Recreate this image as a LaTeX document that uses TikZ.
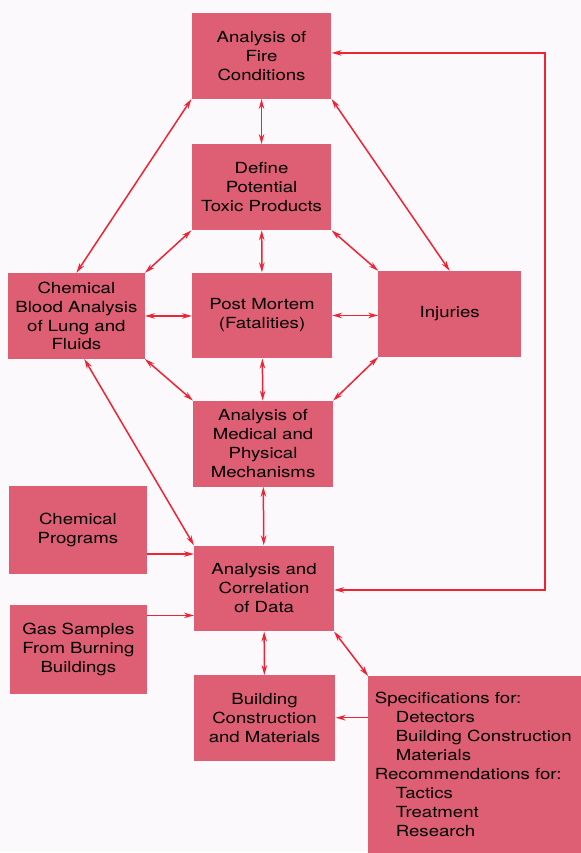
\documentclass[tikz,border=0pt]{standalone}
\usepackage{fontspec}
\setmainfont{TeX Gyre Heros}[FakeStretch=1.22]
\usetikzlibrary{arrows.meta}
\definecolor{boxpink}{RGB}{222,94,116}
\definecolor{linered}{RGB}{238,36,52}
\definecolor{paper}{RGB}{252,249,252}
\tikzset{
  box/.style={fill=boxpink, minimum width=140pt, minimum height=86pt,
    inner sep=0pt, align=center, font=\fontsize{15.3}{19}\selectfont},
  link/.style={draw=linered, line width=1.5pt}
}
\begin{document}
\begin{tikzpicture}[x=1pt, y=-1pt, >={Stealth[length=10pt,width=5.5pt]}]
    \fill[paper] (0,0) rectangle (582,853);
    \node[box] (fire) at (262,56) {Analysis of\\Fire\\Conditions};
    \node[box] (toxic) at (262,187.5) {Define\\Potential\\Toxic Products};
    \node[box, minimum width=137pt] (blood) at (76.5,316.5) {Chemical\\Blood Analysis\\of Lung and\\Fluids};
    \node[box] (mortem) at (262.5,316) {Post Mortem\\(Fatalities)};
    \node[box, minimum width=143pt] (injuries) at (450.5,314.5) {Injuries};
    \node[box] (medical) at (263.5,444.5) {Analysis of\\Medical and\\Physical\\Mechanisms};
    \node[box, minimum width=138pt, minimum height=88pt] (programs) at (78,531) {Chemical\\Programs};
    \node[box] (data) at (264.5,589.5) {Analysis and\\Correlation\\of Data};
    \node[box, minimum width=137pt, minimum height=89pt] (gas) at (78.5,650.5) {Gas Samples\\From Burning\\Buildings};
    \node[box, minimum width=142pt] (building) at (265,719.5) {Building\\Construction\\and Materials};
    \node[box, minimum width=213pt, minimum height=177pt, text width=200pt, align=left] (specs) at (475.5,766)
      {Specifications for:\\
       \hspace*{21pt}Detectors\\
       \hspace*{21pt}Building Construction\\
       \hspace*{21pt}Materials\\
       Recommendations for:\\
       \hspace*{21pt}Tactics\\
       \hspace*{21pt}Treatment\\
       \hspace*{21pt}Research};
    \coordinate (fbtop) at (546,53);
    \coordinate (fbbot) at (546,591);
    \draw[link, <->] (fire) -- (toxic);
    \draw[link, <->] (fire.south west) -- (blood.north);
    \draw[link, <->] (fire.south east) -- (injuries.north);
    \draw[link, <->] (toxic.south west) -- (blood.north east);
    \draw[link, <->] (toxic) -- (mortem);
    \draw[link, <->] (toxic.south east) -- (injuries.north west);
    \draw[link, <->] (blood) -- (blood -| mortem.west);
    \draw[link, <->] (mortem.east) -- (mortem.east -| injuries.west);
    \draw[link, <->] (blood.south east) -- (medical.north west);
    \draw[link, <->] (mortem) -- (medical);
    \draw[link, <->] (injuries.south west) -- (medical.north east);
    \draw[link, <->] ([xshift=8pt]blood.south) -- (data.north west);
    \draw[link, <->] (medical) -- (data);
    \draw[link, ->] ([yshift=-24pt]programs.east) -- ([yshift=-24pt]programs.east -| data.west);
    \draw[link, ->] ([yshift=34pt]gas.east) -- ([yshift=34pt]gas.east -| data.west);
    \draw[link, <->] (data) -- (building);
    \draw[link, <->] (data.south east) -- (specs.north west);
    \draw[link, ->] ([yshift=47pt]specs.west) -- ([yshift=47pt]specs.west -| building.east);
    \draw[link, <->] (fbtop -| fire.east) -- (fbtop) -- (fbbot) -- (fbbot -| data.east);
\end{tikzpicture}
\end{document}
